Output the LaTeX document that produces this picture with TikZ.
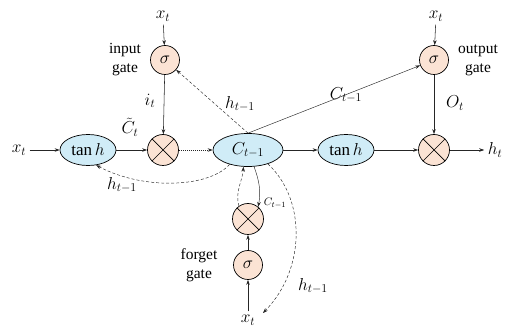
\documentclass[tikz,border=0pt]{standalone}
\usepackage{fontspec}
\setmainfont{Liberation Serif}
\usetikzlibrary{arrows.meta,shapes.geometric}
\definecolor{cellblue}{RGB}{208,236,247}
\definecolor{gatepeach}{RGB}{251,227,212}
\begin{document}
\begin{tikzpicture}[x=1pt,y=1pt,
  font=\fontsize{17}{19}\selectfont,
  arr/.style={-{Stealth[length=5pt,width=3.5pt]},line width=0.55pt,draw=black!85},
  dsh/.style={arr,dash pattern=on 3pt off 2pt,line width=0.45pt},
  dot/.style={arr,dash pattern=on 1pt off 1pt},
  cell/.style={ellipse,draw,line width=0.7pt,fill=cellblue,inner sep=1pt},
  sig/.style={circle,draw,line width=0.7pt,fill=gatepeach,minimum size=29pt,inner sep=0pt},
  mul/.style={circle,draw,line width=0.7pt,fill=gatepeach,minimum size=31pt,inner sep=0pt},
  lbl/.style={inner sep=1pt,align=center,font=\fontsize{15.5}{19}\selectfont},
  tag/.style={inner sep=0pt}]
\useasboundingbox (0,0) rectangle (519,329);
% nodes
\node (xtopI) at (163,313) {$x_t$};
\node[sig] (sigI) at (165,269) {$\sigma$};
\node[mul] (mulI) at (163,179) {};
\node[cell,minimum width=56pt,minimum height=31pt] (tanhA) at (88,179) {$\tan h$};
\node (xleft) at (19,179) {$x_t$};
\node[cell,minimum width=70pt,minimum height=33pt] (C) at (248,179) {$C_{t-1}$};
\node[cell,minimum width=56pt,minimum height=31pt] (tanhB) at (346,179) {$\tan h$};
\node[sig] (sigO) at (434,269) {$\sigma$};
\node[mul] (mulO) at (434,179) {};
\node (xtopO) at (436,313) {$x_t$};
\node (ht) at (495,179) {$h_t$};
\node[mul] (mulF) at (248,110) {};
\node[sig] (sigF) at (248,64) {$\sigma$};
\node (xbot) at (248,9) {$x_t$};
\foreach \m in {mulI,mulO,mulF}{
  \draw[line width=0.7pt] (\m.north west) -- (\m.south east) (\m.north east) -- (\m.south west);}
% labels
\node[lbl] (lin) at (125,269) {input\\gate};
\node[lbl] (lout) at (478,269) {output\\gate};
\node[lbl] (lfor) at (199,64) {forget\\gate};
\node[tag] (lit) at (150,228) {$i_t$};
\node[tag] (lct) at (130,202) {$\tilde{C}_t$};
\node[tag] (lh1) at (240,225) {$h_{t-1}$};
\node[tag] (lc1) at (346,234) {$C_{t-1}$};
\node[tag] (lot) at (455,226) {$O_t$};
\node[tag] (lh2) at (122,144) {$h_{t-1}$};
\node[tag,font=\fontsize{11}{12}\selectfont] (lc2) at (275,126) {$C_{t-1}$};
\node[tag] (lh3) at (313,43) {$h_{t-1}$};
\coordinate (hend) at (263,16);
% connectors
\draw[arr] (xtopI) -- (sigI);
\draw[arr] (sigI) -- (mulI);
\draw[arr] (xleft) -- (tanhA);
\draw[arr] (tanhA) -- (mulI);
\draw[dot] (mulI) -- (C);
\draw[arr] (C) -- (tanhB);
\draw[arr] (tanhB) -- (mulO);
\draw[arr] (mulO) -- (ht);
\draw[arr] (xtopO) -- (sigO);
\draw[arr] (sigO) -- (mulO);
\draw[arr] (sigF) -- (mulF);
\draw[arr] (xbot) -- (sigF);
\draw[dsh] (C.north) -- (sigI);
\draw[arr,line width=0.45pt] (C.north) -- (sigO);
\draw[dsh] (C.218) .. controls (210,142) and (145,138) .. (tanhA.-62);
\draw[arr,line width=0.45pt] (C.-70) to[out=-70,in=80] (mulF.50);
\draw[dsh] (mulF.125) to[out=105,in=-95] (C.-105);
\draw[dsh] (C.-35) .. controls (306,130) and (306,60) .. (hend);
\end{tikzpicture}
\end{document}
